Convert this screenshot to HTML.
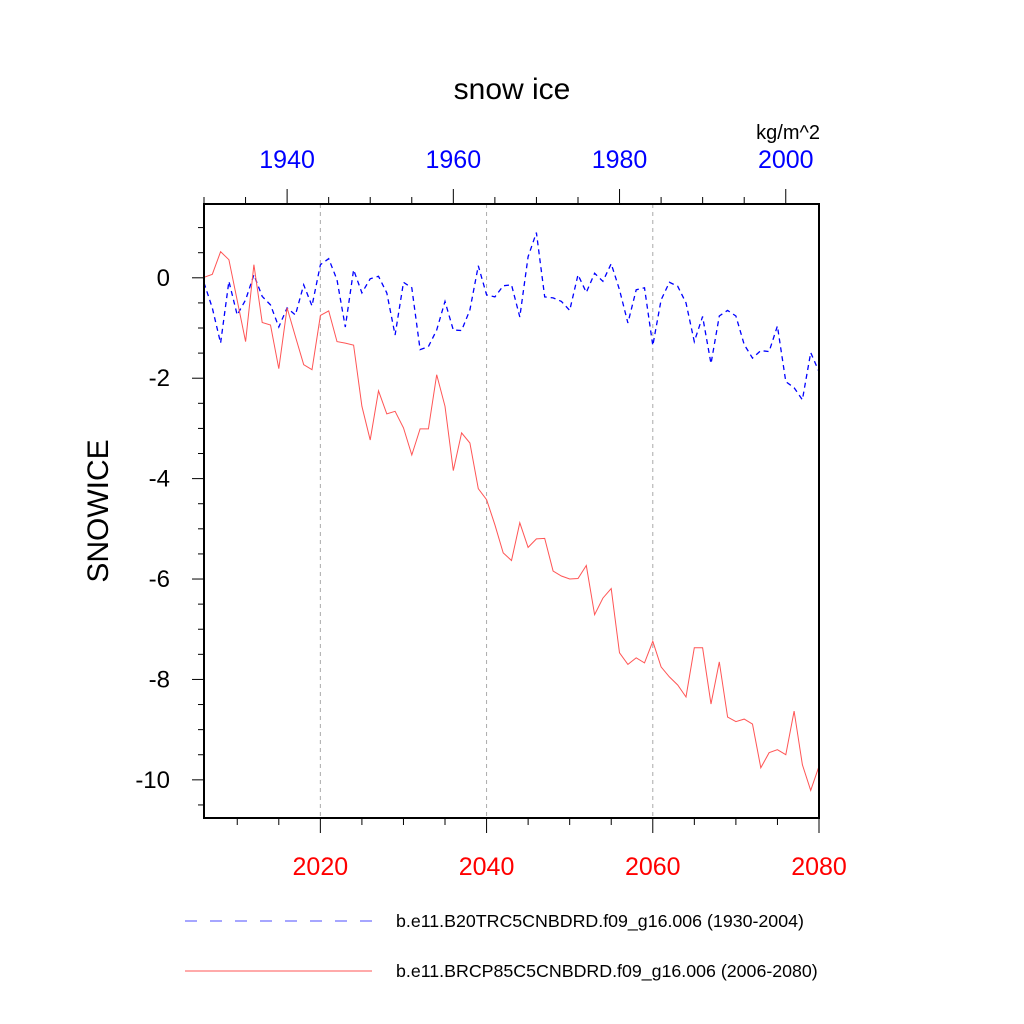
<!DOCTYPE html>
<html><head><meta charset="utf-8"><style>
html,body{margin:0;padding:0;background:#fff;}
svg{display:block;font-family:"Liberation Sans",sans-serif;}
</style></head><body>
<svg id="chart" width="1024" height="1024" viewBox="0 0 1024 1024">
<text x="512" y="99" font-size="30" text-anchor="middle">snow ice</text>
<text x="820" y="139" font-size="20" text-anchor="end">kg/m^2</text>
<text transform="translate(108,511) rotate(-90)" font-size="30" text-anchor="middle">SNOWICE</text>
<g id="grid"></g>
<g id="axes"></g>
<g id="series"></g>
<rect x="204" y="204" width="615" height="614" fill="none" stroke="#000" stroke-width="2"/>
<g>
<line x1="185" y1="921" x2="372" y2="921" stroke="#0000ff" stroke-width="1" stroke-dasharray="12,13" stroke-opacity="0.7"/>
<text x="396" y="927" font-size="17.8">b.e11.B20TRC5CNBDRD.f09_g16.006 (1930-2004)</text>
<line x1="185" y1="971" x2="372" y2="971" stroke="#ff5555" stroke-width="1"/>
<text x="396" y="977" font-size="17.8">b.e11.BRCP85C5CNBDRD.f09_g16.006 (2006-2080)</text>
</g>
</svg>
<script>
const histStart = 1930;
const histValues = [-0.1,-0.6,-1.3,-0.07,-0.74,-0.44,0.06,-0.37,-0.54,-0.98,-0.6,-0.74,-0.14,-0.56,0.26,0.38,-0.04,-0.98,0.16,-0.3,-0.02,0.03,-0.3,-1.14,-0.09,-0.2,-1.43,-1.37,-1.04,-0.47,-1.04,-1.05,-0.64,0.24,-0.34,-0.38,-0.16,-0.14,-0.78,0.42,0.9,-0.38,-0.4,-0.47,-0.65,0.06,-0.29,0.09,-0.07,0.28,-0.24,-0.9,-0.24,-0.2,-1.35,-0.44,-0.09,-0.17,-0.5,-1.27,-0.77,-1.71,-0.76,-0.65,-0.76,-1.33,-1.6,-1.45,-1.47,-0.96,-2.07,-2.19,-2.43,-1.49,-1.87];
const rcpStart = 2006;
const rcpValues = [0.01,0.07,0.52,0.36,-0.45,-1.27,0.26,-0.89,-0.94,-1.81,-0.6,-1.17,-1.73,-1.83,-0.75,-0.66,-1.27,-1.3,-1.34,-2.56,-3.23,-2.25,-2.71,-2.66,-2.99,-3.53,-3.01,-3.01,-1.93,-2.56,-3.84,-3.09,-3.29,-4.2,-4.42,-4.92,-5.48,-5.63,-4.88,-5.37,-5.2,-5.19,-5.84,-5.94,-6.0,-5.99,-5.73,-6.71,-6.38,-6.19,-7.47,-7.7,-7.57,-7.67,-7.24,-7.75,-7.95,-8.11,-8.35,-7.37,-7.37,-8.49,-7.65,-8.75,-8.84,-8.79,-8.89,-9.76,-9.46,-9.4,-9.5,-8.63,-9.7,-10.21,-9.73];
const yTickValues = [0,-2,-4,-6,-8,-10];
const topTickLabels = [1940,1960,1980,2000];
const bottomTickLabels = [2020,2040,2060,2080];

const NS='http://www.w3.org/2000/svg';
const X0=204, X1=819, Y0=204, Y1=818;
const yTop=1.47, yBot=-10.76;
const yS=v=>Y0+(yTop-v)/(yTop-yBot)*(Y1-Y0);
const xTop=v=>X0+(v-1930)/74*(X1-X0);
const xBot=v=>X0+(v-2006)/74*(X1-X0);
function mk(tag,attrs,parent){const e=document.createElementNS(NS,tag);for(const k in attrs)e.setAttribute(k,attrs[k]);parent.appendChild(e);return e;}
const grid=document.getElementById('grid'), axes=document.getElementById('axes'), series=document.getElementById('series');

[2020,2040,2060].forEach(v=>{
  const l=mk('line',{x1:xBot(v),x2:xBot(v),y1:Y0,y2:Y1,stroke:'#aaa','stroke-width':1,'stroke-dasharray':'4,4'},grid);
  
  
});
for(let v=1;v>=-10.5;v-=0.5){
  const major=Math.abs(v%2)<1e-9;
  const t=mk('line',{x1:X0,x2:X0-(major?12:6),y1:yS(v),y2:yS(v),stroke:'#000','stroke-width':1},axes);
  
  
}
yTickValues.forEach(v=>{
  const t=mk('text',{x:170,y:yS(v)+8,'font-size':24,'text-anchor':'end'},axes);
  t.textContent=v===0?'0':String(v);
  
  
});
for(let v=1930;v<=2004;v+=5){
  const major=v%20===0;
  const t=mk('line',{x1:xTop(v),x2:xTop(v),y1:Y0,y2:Y0-(major?15:7),stroke:'#000','stroke-width':1},axes);
  
  
}
topTickLabels.forEach(v=>{
  const t=mk('text',{x:xTop(v),y:168,'font-size':25,'text-anchor':'middle',fill:'#0000ff'},axes);
  t.textContent=v;
  
  
});
for(let v=2010;v<=2080;v+=5){
  const major=v%20===0;
  const t=mk('line',{x1:xBot(v),x2:xBot(v),y1:Y1,y2:Y1+(major?15:7),stroke:'#000','stroke-width':1},axes);
  
  
}
bottomTickLabels.forEach(v=>{
  const t=mk('text',{x:xBot(v),y:875,'font-size':25,'text-anchor':'middle',fill:'#ff0000'},axes);
  t.textContent=v;
  
  
});
const hp=histValues.map((v,i)=>xTop(histStart+i).toFixed(1)+','+yS(v).toFixed(1)).join(' ');
const h=mk('polyline',{points:hp,fill:'none',stroke:'#0000ff','stroke-width':1.3,'stroke-dasharray':'5,4'},series);


const rp=rcpValues.map((v,i)=>xBot(rcpStart+i).toFixed(1)+','+yS(v).toFixed(1)).join(' ');
const r=mk('polyline',{points:rp,fill:'none',stroke:'#ff5555','stroke-width':1},series);


</script>
</body></html>
